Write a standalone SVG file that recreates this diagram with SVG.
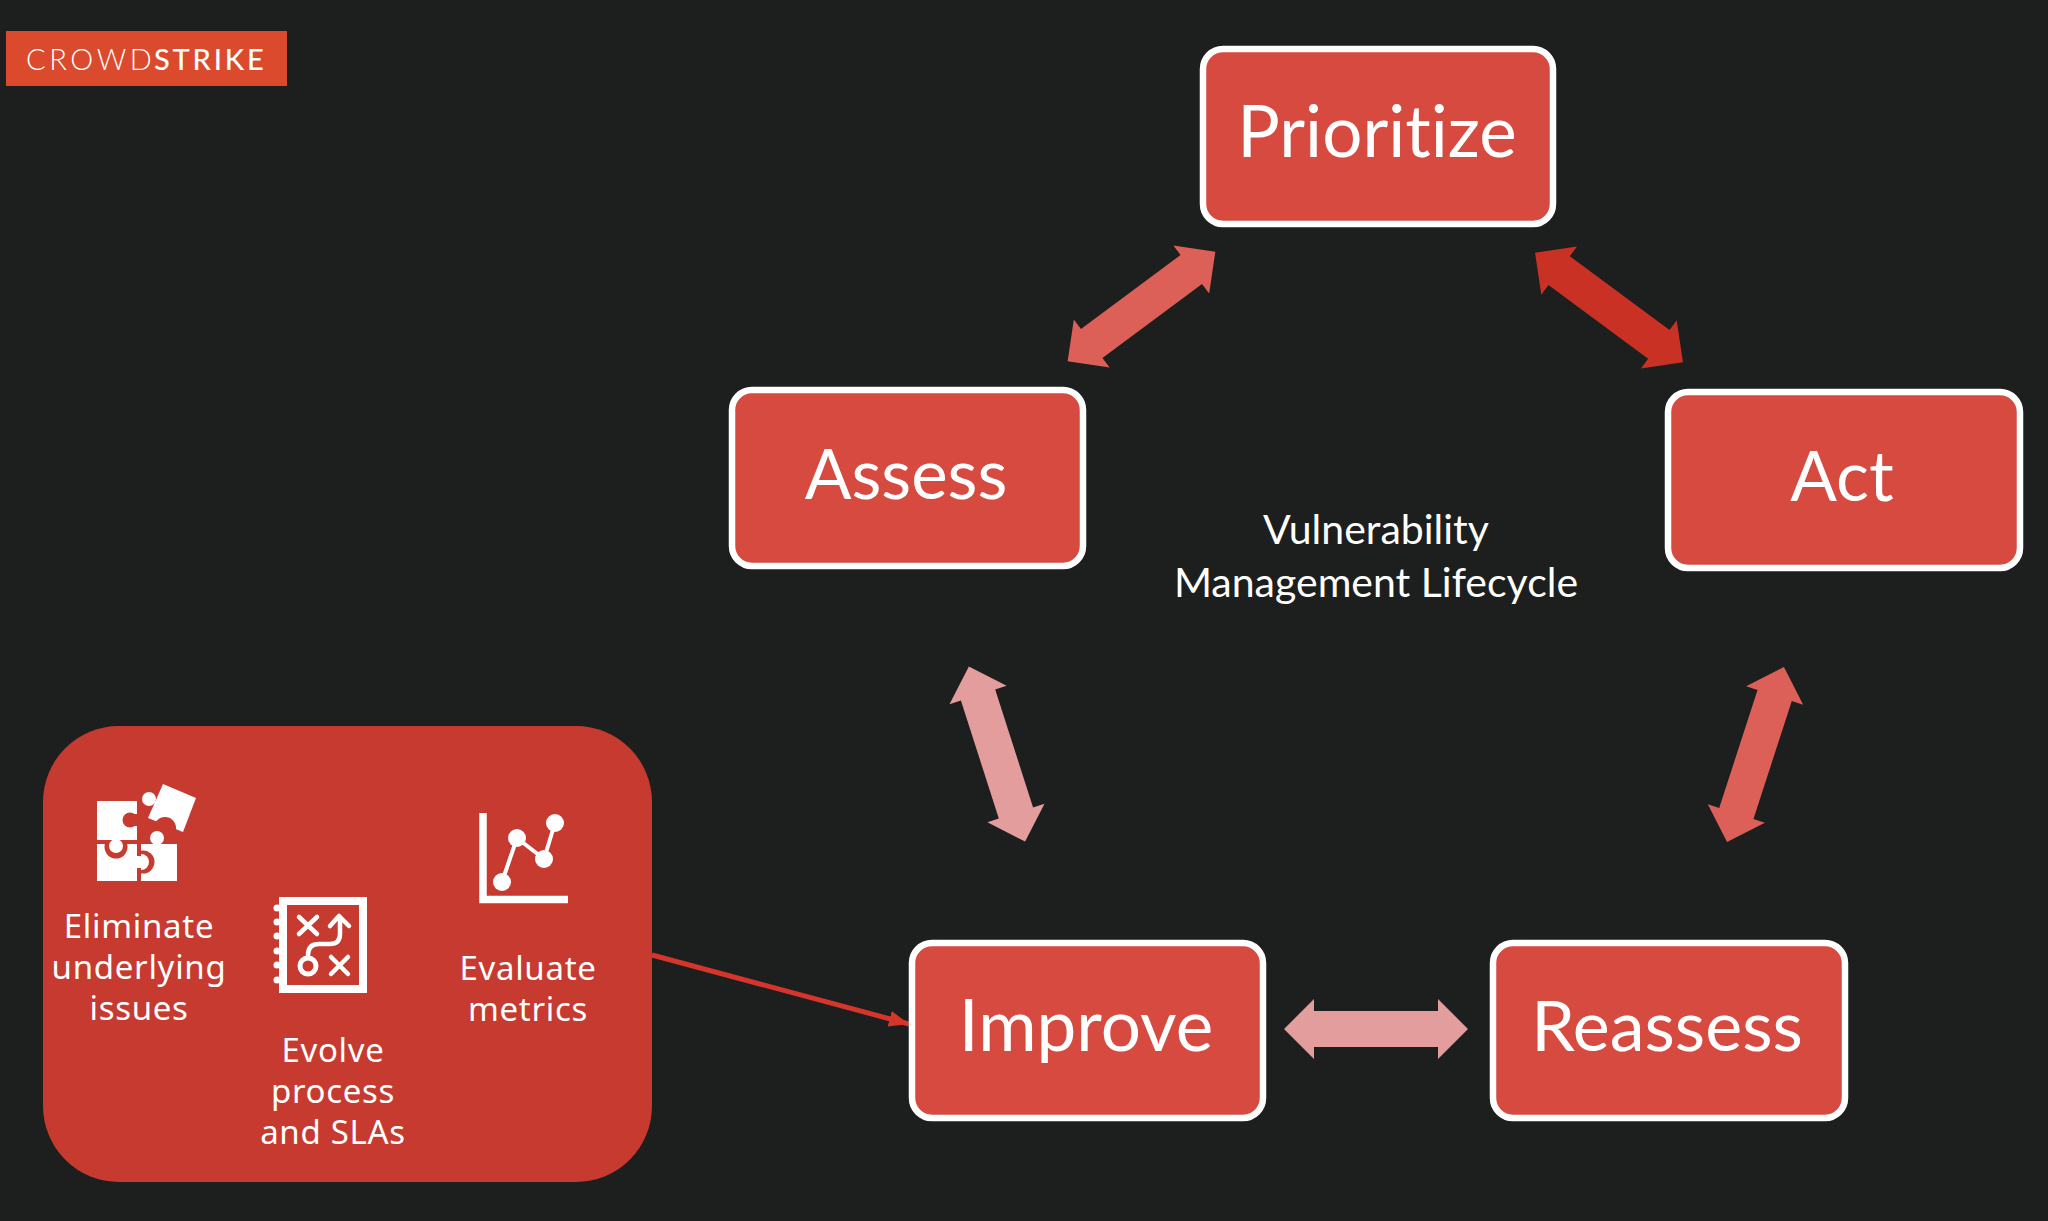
<svg xmlns="http://www.w3.org/2000/svg" xmlns:xlink="http://www.w3.org/1999/xlink" width="2048" height="1221" viewBox="0 0 2048 1221">
<style>
.box{fill:#d64a40;stroke:#fff;stroke-width:6.500}
.big{font-family:Lato,"Open Sans",sans-serif;font-size:69px;fill:#fff;text-anchor:middle;font-variant-ligatures:none}
.lg{font-size:71px}
.mid{font-family:Lato,"Open Sans",sans-serif;font-size:41px;fill:#fff;text-anchor:middle;font-variant-ligatures:none}
.sm{font-family:"Noto Sans",Lato,sans-serif;font-size:33px;fill:#fff;text-anchor:middle;letter-spacing:.7px}
.w{fill:#fff}.r{fill:#c63a30}
.ln{fill:none;stroke:#fff;stroke-width:4.500;stroke-linecap:round;stroke-linejoin:round}
.a1{fill:#dc6058}.a2{fill:#c93125}.a3{fill:#e39d9c}
</style>
<defs>
<path id="dbl" d="M-92,0L-62,-30V-18H62V-30L92,0L62,30V18H-62V30Z"/>
<marker id="tip" markerUnits="userSpaceOnUse" markerWidth="20" markerHeight="16" refX="20" refY="8" orient="auto"><path d="M0,0L20,8L0,16Z" fill="#d5352a"/></marker>
</defs>
<rect width="2048" height="1221" fill="#1d1f1e"/>
<g id="logo">
<rect x="6" y="31" width="281" height="55" fill="#db4a2c"/>
<text x="26" y="70" font-family="Lato,sans-serif" font-size="29" font-weight="300" fill="#fff" letter-spacing="3.6">CROWD</text>
<text x="154" y="70" font-family="Lato,sans-serif" font-size="29" font-weight="500" fill="#fff" letter-spacing="2.8">STRIKE</text>
</g>
<g id="connectors">
<use xlink:href="#dbl" href="#dbl" class="a1" transform="translate(1141.5 306.5) rotate(-36.6)"/>
<use xlink:href="#dbl" href="#dbl" class="a2" transform="translate(1609 307.5) rotate(36.5)"/>
<use xlink:href="#dbl" href="#dbl" class="a3" transform="translate(997 754) rotate(72.2)"/>
<use xlink:href="#dbl" href="#dbl" class="a1" transform="translate(1755.5 754.5) rotate(108)"/>
<use xlink:href="#dbl" href="#dbl" class="a3" transform="translate(1376 1029)"/>
<line x1="652" y1="955" x2="909" y2="1024" stroke="#d5352a" stroke-width="5" marker-end="url(#tip)"/>
</g>
<g id="prioritize"><rect class="box" x="1203" y="49" width="350" height="175" rx="20"/><text class="big lg" x="1377" y="157">Prioritize</text></g>
<g id="assess"><rect class="box" x="732" y="390" width="351" height="176" rx="20"/><text class="big" x="906" y="499">Assess</text></g>
<g id="act"><rect class="box" x="1668" y="392" width="352" height="176" rx="20"/><text class="big" x="1842" y="501">Act</text></g>
<g id="improve"><rect class="box" x="912" y="943" width="351" height="175" rx="20"/><text class="big lg" x="1086" y="1051">Improve</text></g>
<g id="reassess"><rect class="box" x="1493" y="943" width="352" height="175" rx="20"/><text class="big" x="1667" y="1051" style="font-size:70px">Reassess</text></g>
<g id="title"><text class="mid" x="1376" y="544">Vulnerability</text><text class="mid" x="1376" y="597">Management Lifecycle</text></g>
<g id="panel">
<rect x="43" y="726" width="609" height="456" rx="76" fill="#c63a30"/>
<g id="puzzle">
<rect class="w" x="141" y="844" width="36" height="37"/>
<circle class="r" cx="143" cy="862" r="11.500"/><circle class="w" cx="141" cy="862" r="8"/>
<rect class="w" x="97" y="844" width="40" height="37"/>
<rect class="r" x="137" y="844" width="4" height="12"/><rect class="r" x="137" y="868" width="4" height="13"/><rect class="w" x="136" y="856" width="6" height="12"/>
<circle class="r" cx="116" cy="847" r="11.500"/>
<rect class="r" x="97" y="840" width="44" height="4"/>
<rect class="w" x="97" y="801" width="40" height="39"/>
<circle class="w" cx="116" cy="846" r="7"/>
<polygon class="w" points="163,784 196,798 183,832 148,818"/>
<circle class="r" cx="130" cy="820" r="7.500"/><rect class="r" x="130" y="814" width="8" height="12"/>
<circle class="w" cx="149" cy="799" r="7"/>
<circle class="r" cx="165" cy="828" r="11"/>
<circle class="w" cx="157" cy="838" r="7"/><rect class="w" x="153" y="840" width="8" height="5"/>
</g>
<g id="plan">
<rect x="283" y="901" width="80" height="88" fill="none" stroke="#fff" stroke-width="8"/>
<g class="w"><circle cx="277" cy="908" r="3.500"/><circle cx="277" cy="922" r="3.500"/><circle cx="277" cy="936" r="3.500"/><circle cx="277" cy="951" r="3.500"/><circle cx="277" cy="965" r="3.500"/><circle cx="277" cy="980" r="3.500"/></g>
<path class="ln" d="M299 917L317 934M317 917L299 934M331 957L348 974M348 957L331 974M308 958V955Q308 944 319 944H330Q340 944 340 934V917M330 926L339 916L349 926"/>
<circle cx="308" cy="966" r="8" fill="none" stroke="#fff" stroke-width="5"/>
</g>
<g id="chart">
<path d="M483 813V899.500H568" fill="none" stroke="#fff" stroke-width="7.500"/>
<path d="M502 882L517 838L544 859L555 823" fill="none" stroke="#fff" stroke-width="4"/>
<circle class="w" cx="502" cy="882" r="9"/><circle class="w" cx="517" cy="838" r="9"/><circle class="w" cx="544" cy="859" r="9"/><circle class="w" cx="555" cy="823" r="9"/>
</g>
<text class="sm" x="139" y="938">Eliminate</text><text class="sm" x="139" y="979">underlying</text><text class="sm" x="139" y="1020">issues</text>
<text class="sm" x="333" y="1062">Evolve</text><text class="sm" x="333" y="1103">process</text><text class="sm" x="333" y="1144">and SLAs</text>
<text class="sm" x="528" y="980">Evaluate</text><text class="sm" x="528" y="1021">metrics</text>
</g>
</svg>
